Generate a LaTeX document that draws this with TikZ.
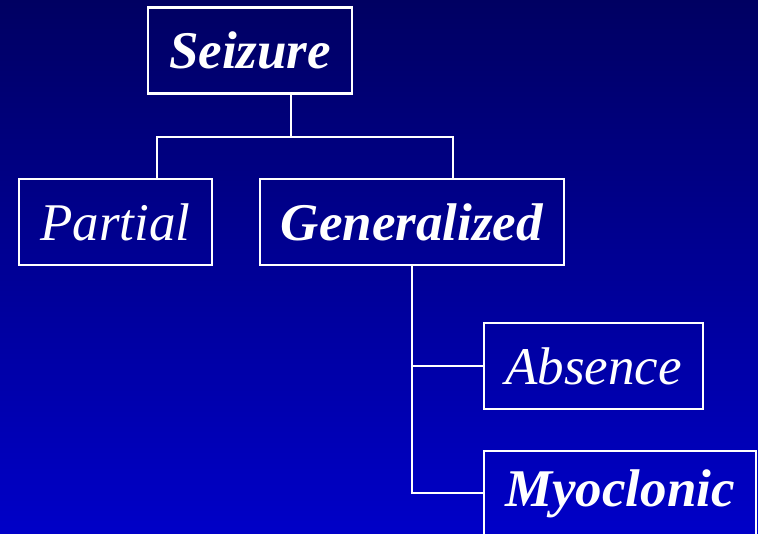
\documentclass[tikz,border=0pt]{standalone}
\usepackage{fontspec}
\setmainfont{Liberation Serif}
\begin{document}
\begin{tikzpicture}[x=1pt,y=-1pt,
  box/.style={draw=white,line width=2.6pt,inner sep=0pt,minimum height=86pt,
    text=white,font=\fontsize{53}{60}\selectfont\itshape},
  strong/.style={font=\fontsize{53}{60}\selectfont\bfseries\itshape},
  link/.style={draw=white,line width=2.6pt}]
  % page and blue gradient background
  \useasboundingbox (0,0) rectangle (758,534);
  \clip (0,0) rectangle (758,534);
  \shade[top color={rgb,255:red,0;green,0;blue,98},bottom color={rgb,255:red,0;green,0;blue,200}]
    (0,0) rectangle (758,534);

  % boxes
  \node[box,strong,minimum width=204pt] (seizure) at (250,50.5) {Seizure};
  \node[box,minimum width=193pt] (partial) at (115.5,222) {Partial};
  \node[box,strong,minimum width=304pt] (general) at (412,222) {Generalized};
  \node[box,minimum width=219pt] (absence) at (593.5,366) {Absence};
  \node[box,strong,minimum width=272pt] (myo) at (620,494) {Myoclonic};

  % junction points
  \coordinate (split) at (291,137);
  \coordinate (jl) at (157,137);
  \coordinate (jr) at (453,137);
  \coordinate (ja) at (412,366);
  \coordinate (jm) at (412,493);

  % connectors
  \draw[link] (seizure.south -| split) -- (split);
  \draw[link] (partial.north -| jl) -- (jl) -- (jr) -- (general.north -| jr);
  \draw[link] (general.south) -- (jm) -- (jm -| myo.west);
  \draw[link] (ja) -- (absence.west);
\end{tikzpicture}
\end{document}
